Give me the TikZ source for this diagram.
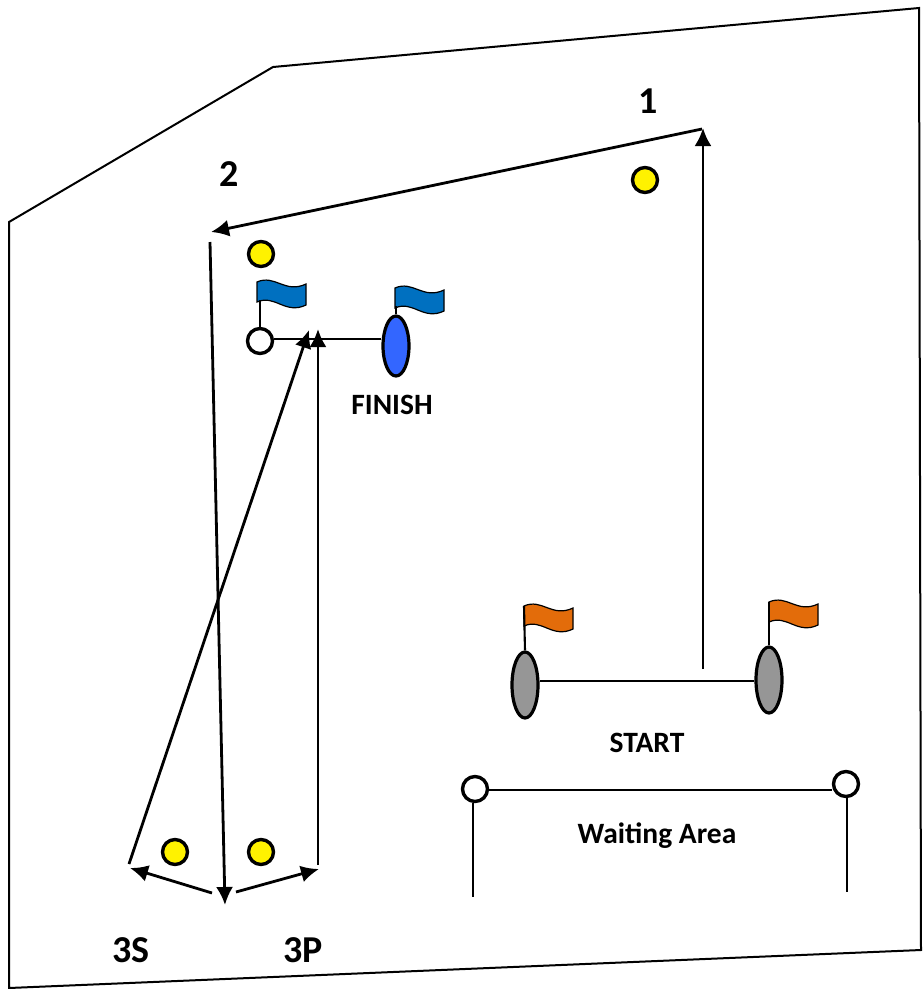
\documentclass[tikz,border=0pt]{standalone}
\usepackage{fontspec}
\setmainfont{Carlito}
\usetikzlibrary{positioning, shapes.geometric, arrows.meta}

\tikzset{
    buoy/.style={circle, draw, line width=3.4pt, inner sep=0pt, minimum size=25pt},
    mark yellow/.style={buoy, fill=yellow},
    mark white/.style={buoy, fill=white},
    gate/.style={ellipse, draw, line width=3.2pt, inner sep=0pt, minimum width=26pt},
    leg/.style={line width=2.8pt, -{Latex[length=18pt,width=17pt]}},
    post/.style={line width=2.1pt},
    label/.style={font=\bfseries\fontsize{29.5}{30}\selectfont, inner sep=0pt},
    mark label/.style={font=\bfseries\fontsize{38}{38}\selectfont, inner sep=0pt},
    pennant/.style={draw, line width=1.2pt}
}

\definecolor{flagblue}{HTML}{0070C0}
\definecolor{flagorange}{HTML}{E36C0A}
\definecolor{gateblue}{HTML}{3366FF}
\definecolor{gategrey}{HTML}{969696}

% flag: top of the pole, colour
\newcommand{\pennantat}[2]{
    \draw[pennant, fill=#2, shift={(#1)}] (0,0) .. controls (18,-8) and (28,12) .. (49,2)
        -- (49,23) .. controls (28,33) and (18,12) .. (0,20) -- cycle;
}

\begin{document}
\begin{tikzpicture}[x=1pt, y=-1pt]
    \useasboundingbox (0,0) rectangle (922,989);

    % Outline
    \draw[line width=2pt] (9,222) -- (273,67) -- (919,8) -- (921,950) -- (9,988) -- cycle;

    % Flags
    \coordinate (flagA) at (257,282);
    \coordinate (flagB) at (395,288);
    \coordinate (flagC) at (524,606);
    \coordinate (flagD) at (769,602);
    \pennantat{flagA}{flagblue}
    \pennantat{flagB}{flagblue}
    \pennantat{flagC}{flagorange}
    \pennantat{flagD}{flagorange}

    % Finish line
    \node (finishL) [mark white] at (260,341) {};
    \node (finishR) [gate, fill=gateblue, minimum height=60pt] at (396,346) {};
    \coordinate (poleA) at (260,300);
    \coordinate (poleB) at (396,306);
    \node [label] at (392,405) {FINISH};
    \draw[post] (finishL.east |- 0,339) -- (finishR.west |- 0,339);
    \draw[post] (finishL.north) -- (poleA);
    \draw[post] (finishR.north) -- (poleB);

    % Start line
    \node (startL) [gate, fill=gategrey, minimum height=66pt] at (525,685) {};
    \node (startR) [gate, fill=gategrey, minimum height=66pt] at (769,680) {};
    \node [label] at (647,743) {START};
    \draw[post] (startL.east |- 0,681) -- (startR.west |- 0,681);
    \draw[post] (startL.north) -- (flagC);
    \draw[post] (startR.north) -- (flagD);

    % Waiting area
    \node (waitL) [mark white] at (475,789) {};
    \node (waitR) [mark white] at (846,784) {};
    \coordinate (waitLend) at (473,897);
    \coordinate (waitRend) at (847,892);
    \node [label] at (657,836) {Waiting Area};
    \draw[post] (waitL.east |- 0,790) -- (waitR.west |- 0,790);
    \draw[post] (waitL.south -| waitLend) -- (waitLend);
    \draw[post] (waitR.south -| waitRend) -- (waitRend);

    % Marks
    \node (markA) [mark yellow] at (645,180) {};
    \node (markB) [mark yellow] at (261,254) {};
    \node (markS) [mark yellow] at (175,852) {};
    \node (markP) [mark yellow] at (261,852) {};

    % Course
    \coordinate (legstart) at (703,669);
    \coordinate (one) at (703,128);
    \coordinate (oneout) at (702,129);
    \coordinate (two) at (211,232);
    \coordinate (twoout) at (210,242);
    \coordinate (three) at (225,905);
    \coordinate (threeS) at (130,868);
    \coordinate (threeSin) at (212,893);
    \coordinate (threeP) at (319,869);
    \coordinate (threePin) at (236,892);
    \coordinate (upS) at (129,864);
    \coordinate (upP) at (318,865);
    \coordinate (endS) at (309,330);
    \coordinate (endP) at (318,329);

    \draw[leg] (legstart) -- (one);
    \draw[leg] (oneout) -- (two);
    \draw[leg] (twoout) -- (three);
    \draw[leg] (threeSin) -- (threeS);
    \draw[leg] (threePin) -- (threeP);
    \draw[leg] (upS) -- (endS);
    \draw[leg] (upP) -- (endP);

    % Mark numbers
    \node [mark label] at (648,101) {1};
    \node [mark label] at (229,174) {2};
    \node [mark label] at (131,950) {3S};
    \node [mark label] at (303,950) {3P};
\end{tikzpicture}
\end{document}
